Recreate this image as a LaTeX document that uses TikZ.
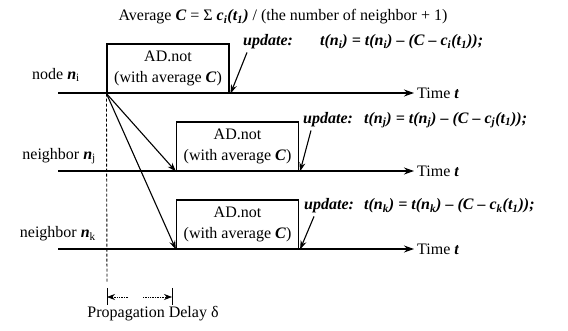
\documentclass[tikz,border=0pt]{standalone}
\usepackage{fontspec}
\setmainfont{Liberation Serif}
\usetikzlibrary{arrows.meta}
\newcommand{\bi}[1]{\textbf{\textit{#1}}}
\newcommand{\sbs}[1]{\textsubscript{#1}}
\begin{document}
\begin{tikzpicture}[x=1pt,y=-1pt,
  every node/.style={font=\fontsize{16}{21}\selectfont, inner sep=0pt},
  adbox/.style={draw, line width=1.1pt, minimum width=122pt, minimum height=49pt, align=center},
  tline/.style={line width=1.1pt, -{Stealth[length=10pt,width=7pt]}},
  arr/.style={line width=1.1pt, -{Stealth[length=9pt,width=6pt]}},
  thinarr/.style={line width=0.7pt, densely dotted, -{Stealth[length=8pt,width=6pt]}},
  bar/.style={line width=1pt},
  vdash/.style={line width=0.9pt, dash pattern=on 3pt off 2pt}]
\useasboundingbox (0,0) rectangle (568,331);

% title
\node (title) at (283,17) {Average \bi{C} = Σ \bi{c\sbs{i}(t\sbs{1})} / (the number of neighbor + 1)};

% boxes
\node[adbox] (b1) at (168,68.5) {AD.not\\(with average \bi{C})};
\node[adbox] (b2) at (237.5,146.5) {AD.not\\(with average \bi{C})};
\node[adbox] (b3) at (237.5,224.5) {AD.not\\(with average \bi{C})};

% time lines
\coordinate (s1) at (58,93);  \coordinate (e1) at (414,93);
\coordinate (s2) at (58,171); \coordinate (e2) at (414,171);
\coordinate (s3) at (58,249); \coordinate (e3) at (414,249);
\draw[tline] (s1) -- (e1);
\draw[tline] (s2) -- (e2);
\draw[tline] (s3) -- (e3);
\node[anchor=west] (t1) at ([xshift=3pt]e1) {Time \bi{t}};
\node[anchor=west] (t2) at ([xshift=3pt]e2) {Time \bi{t}};
\node[anchor=west] (t3) at ([xshift=3pt]e3) {Time \bi{t}};

% node labels
\node[anchor=east] (l1) at (80,75) {node \bi{n}\sbs{i}};
\node[anchor=east] (l2) at (96,156) {neighbor \bi{n}\sbs{j}};
\node[anchor=east] (l3) at (96,234) {neighbor \bi{n}\sbs{k}};

% dashed vertical
\coordinate (dbot) at (107,283);
\draw[vdash] (b1.south west) -- (dbot);

% messages
\draw[arr] (b1.south west) -- (b2.south west);
\draw[arr] (b1.south west) -- (b3.south west);

% updates
\node[anchor=west] (u1) at (243,42) {\bi{update:}};
\node[anchor=west] (f1) at (320,42) {\bi{t(n\sbs{i}) = t(n\sbs{i}) – (C – c\sbs{i}(t\sbs{1}));}};
\node[anchor=west] (u2) at (303,120) {\bi{update:}};
\node[anchor=west] (f2) at (364,120) {\bi{t(n\sbs{j}) = t(n\sbs{j}) – (C – c\sbs{j}(t\sbs{1}));}};
\node[anchor=west] (u3) at (304,206) {\bi{update:}};
\node[anchor=west] (f3) at (364,206) {\bi{t(n\sbs{k}) = t(n\sbs{k}) – (C – c\sbs{k}(t\sbs{1}));}};
\draw[arr] ([xshift=4pt,yshift=-3pt]u1.south west) -- ([xshift=1pt]b1.south east);
\draw[arr] ([xshift=8pt,yshift=-3pt]u2.south west) -- ([xshift=1pt]b2.south east);
\draw[arr] ([xshift=10pt,yshift=-3pt]u3.south west) -- ([xshift=1pt]b3.south east);

% propagation delay
\coordinate (pl1) at (107,288); \coordinate (pl2) at (107,305);
\coordinate (pr1) at (172,288); \coordinate (pr2) at (172,305);
\coordinate (pl) at (107,297); \coordinate (pr) at (172,297);
\coordinate (pm1) at (128,297); \coordinate (pm2) at (143,297);
\draw[bar] (pl1) -- (pl2);
\draw[bar] (pr1) -- (pr2);
\draw[thinarr] (pm1) -- (pl);
\draw[thinarr] (pm2) -- (pr);
\node (pd) at (153,314) {Propagation Delay δ};
\end{tikzpicture}
\end{document}
